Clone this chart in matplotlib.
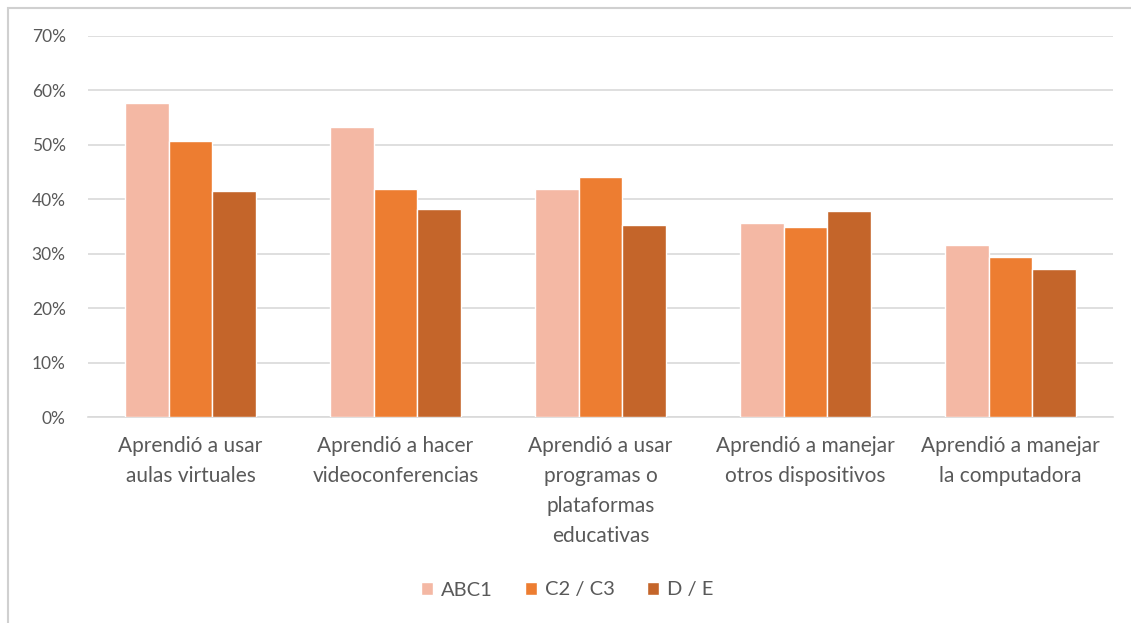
import matplotlib
matplotlib.use("Agg")
import matplotlib.pyplot as plt
from matplotlib.patches import Rectangle
import numpy as np

categories = [
    "Aprendió a usar\naulas virtuales",
    "Aprendió a hacer\nvideoconferencias",
    "Aprendió a usar\nprogramas o\nplataformas\neducativas",
    "Aprendió a manejar\notros dispositivos",
    "Aprendió a manejar\nla computadora",
]
series_names = ["ABC1", "C2 / C3", "D / E"]
abc1 = [57.7, 53.3, 41.9, 35.6, 31.6]
c2c3 = [50.7, 41.9, 44.1, 34.9, 29.4]
de = [41.5, 38.2, 35.3, 37.8, 27.2]
yticks = [0, 10, 20, 30, 40, 50, 60, 70]
ytick_labels = ["0%", "10%", "20%", "30%", "40%", "50%", "60%", "70%"]

colors = ["#F4B8A4", "#ED7D31", "#C4652A"]
text_color = "#595959"
plt.rcParams['font.family'] = ['Lato', 'DejaVu Sans']

fig = plt.figure(figsize=(11.31, 6.23), dpi=100)
W, H = 1131, 623
ax = fig.add_axes([88 / W, 1 - 417 / H, (1113 - 88) / W, (417 - 36) / H])

# outer chart frame
fig.patches.append(Rectangle((7.5 / W, -0.05), 1.2, 1 - 7.5 / H + 0.05,
                             transform=fig.transFigure, fill=False,
                             edgecolor="#D0D0D0", linewidth=1.5))

x = np.arange(len(categories))
bw = 0.212
for i, (vals, name) in enumerate(zip([abc1, c2c3, de], series_names)):
    ax.bar(x + (i - 1) * bw, vals, width=bw, color=colors[i],
           edgecolor="white", linewidth=1.0, label=name, zorder=3)

ax.set_xlim(-0.5, len(categories) - 0.5)
ax.set_ylim(0, 70)
ax.set_yticks(yticks)
ax.set_yticklabels(ytick_labels, color=text_color, fontsize=12.5)
ax.set_xticks(x)
ax.set_xticklabels(categories, color=text_color, fontsize=15, linespacing=1.62)
ax.tick_params(axis="both", length=0)
ax.tick_params(axis="y", pad=16)
ax.tick_params(axis="x", pad=14)
for lbl in ax.get_xticklabels():
    lbl.set_verticalalignment("top")
ax.grid(axis="y", color="#D9D9D9", linewidth=1.2, zorder=0)
for s in ["top", "right", "left"]:
    ax.spines[s].set_visible(False)
ax.spines["bottom"].set_color("#D9D9D9")
ax.spines["bottom"].set_linewidth(1.2)

leg = fig.legend(loc="center", bbox_to_anchor=(567 / W, 1 - 590 / H), ncol=3,
                 frameon=False, fontsize=14.5, handlelength=0.6, handleheight=0.6,
                 handletextpad=0.4, columnspacing=1.6)
for t in leg.get_texts():
    t.set_color(text_color)

fig.savefig("out.png", dpi=100, facecolor="white")
